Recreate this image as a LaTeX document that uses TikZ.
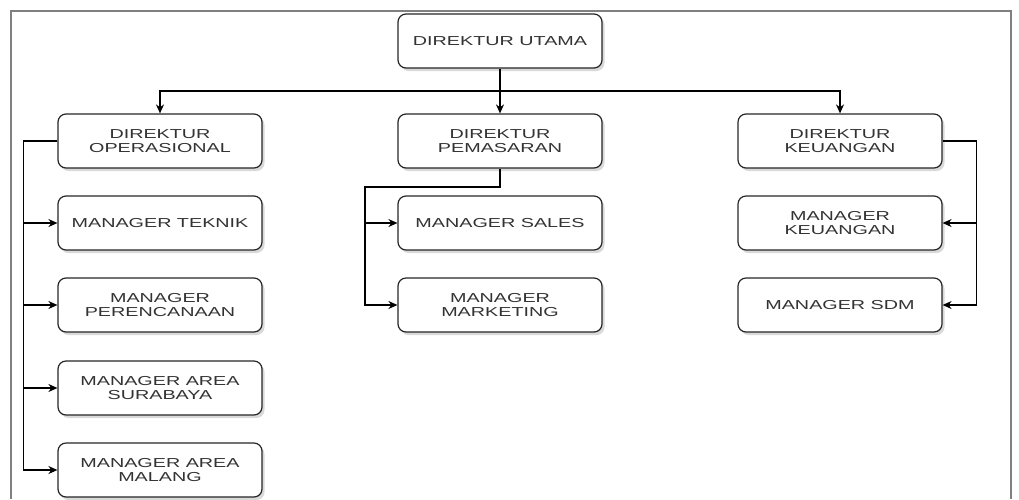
\documentclass[tikz,border=0pt]{standalone}
\usepackage{fontspec}
\setmainfont[FakeStretch=1.52]{Liberation Sans}
\usetikzlibrary{arrows.meta,shadows}
\begin{document}
\begin{tikzpicture}[x=1pt,y=-1pt,
  box/.style={draw=black!85,line width=1.2pt,rounded corners=8pt,fill=white,
    minimum width=204pt,minimum height=54pt,align=center,text=black!80,
    font=\fontsize{13}{13.5}\selectfont,
    drop shadow={shadow xshift=2.5pt,shadow yshift=-3pt,opacity=0.3}},
  arr/.style={draw=black,line width=1.3pt,-{Stealth[length=9pt,width=8pt]}},
  ln/.style={draw=black,line width=1.3pt}]
\useasboundingbox (0,0) rectangle (1019,499);
\draw[color=black!50,line width=1.5pt] (11,499) -- (11,11) -- (1011,11) -- (1011,499);
\node[box] (du) at (500,41) {DIREKTUR UTAMA};
\node[box] (do) at (160,141) {DIREKTUR\\OPERASIONAL};
\node[box] (dp) at (500,141) {DIREKTUR\\PEMASARAN};
\node[box] (dk) at (840,141) {DIREKTUR\\KEUANGAN};
\node[box] (mt) at (160,223) {MANAGER TEKNIK};
\node[box] (mp) at (160,305) {MANAGER\\PERENCANAAN};
\node[box] (ms1) at (160,388) {MANAGER AREA\\SURABAYA};
\node[box] (mm1) at (160,470) {MANAGER AREA\\MALANG};
\node[box] (ms) at (500,223) {MANAGER SALES};
\node[box] (mm) at (500,305) {MANAGER\\MARKETING};
\node[box] (mk) at (840,223) {MANAGER\\KEUANGAN};
\node[box] (sdm) at (840,305) {MANAGER SDM};
\coordinate (j) at (500,91);
\coordinate (mb) at (365,187);
\draw[arr] (du.south) -- (dp.north);
\draw[arr] (j) -| (do.north);
\draw[arr] (j) -| (dk.north);
\draw[arr] (do.west) -- ++(-34,0) |- (mt.west);
\draw[arr] (do.west) -- ++(-34,0) |- (mp.west);
\draw[arr] (do.west) -- ++(-34,0) |- (ms1.west);
\draw[arr] (do.west) -- ++(-34,0) |- (mm1.west);
\draw[arr] (dp.south) |- (mb) |- (ms.west);
\draw[arr] (dp.south) |- (mb) |- (mm.west);
\draw[arr] (dk.east) -- ++(34,0) |- (mk.east);
\draw[arr] (dk.east) -- ++(34,0) |- (sdm.east);
\end{tikzpicture}
\end{document}
